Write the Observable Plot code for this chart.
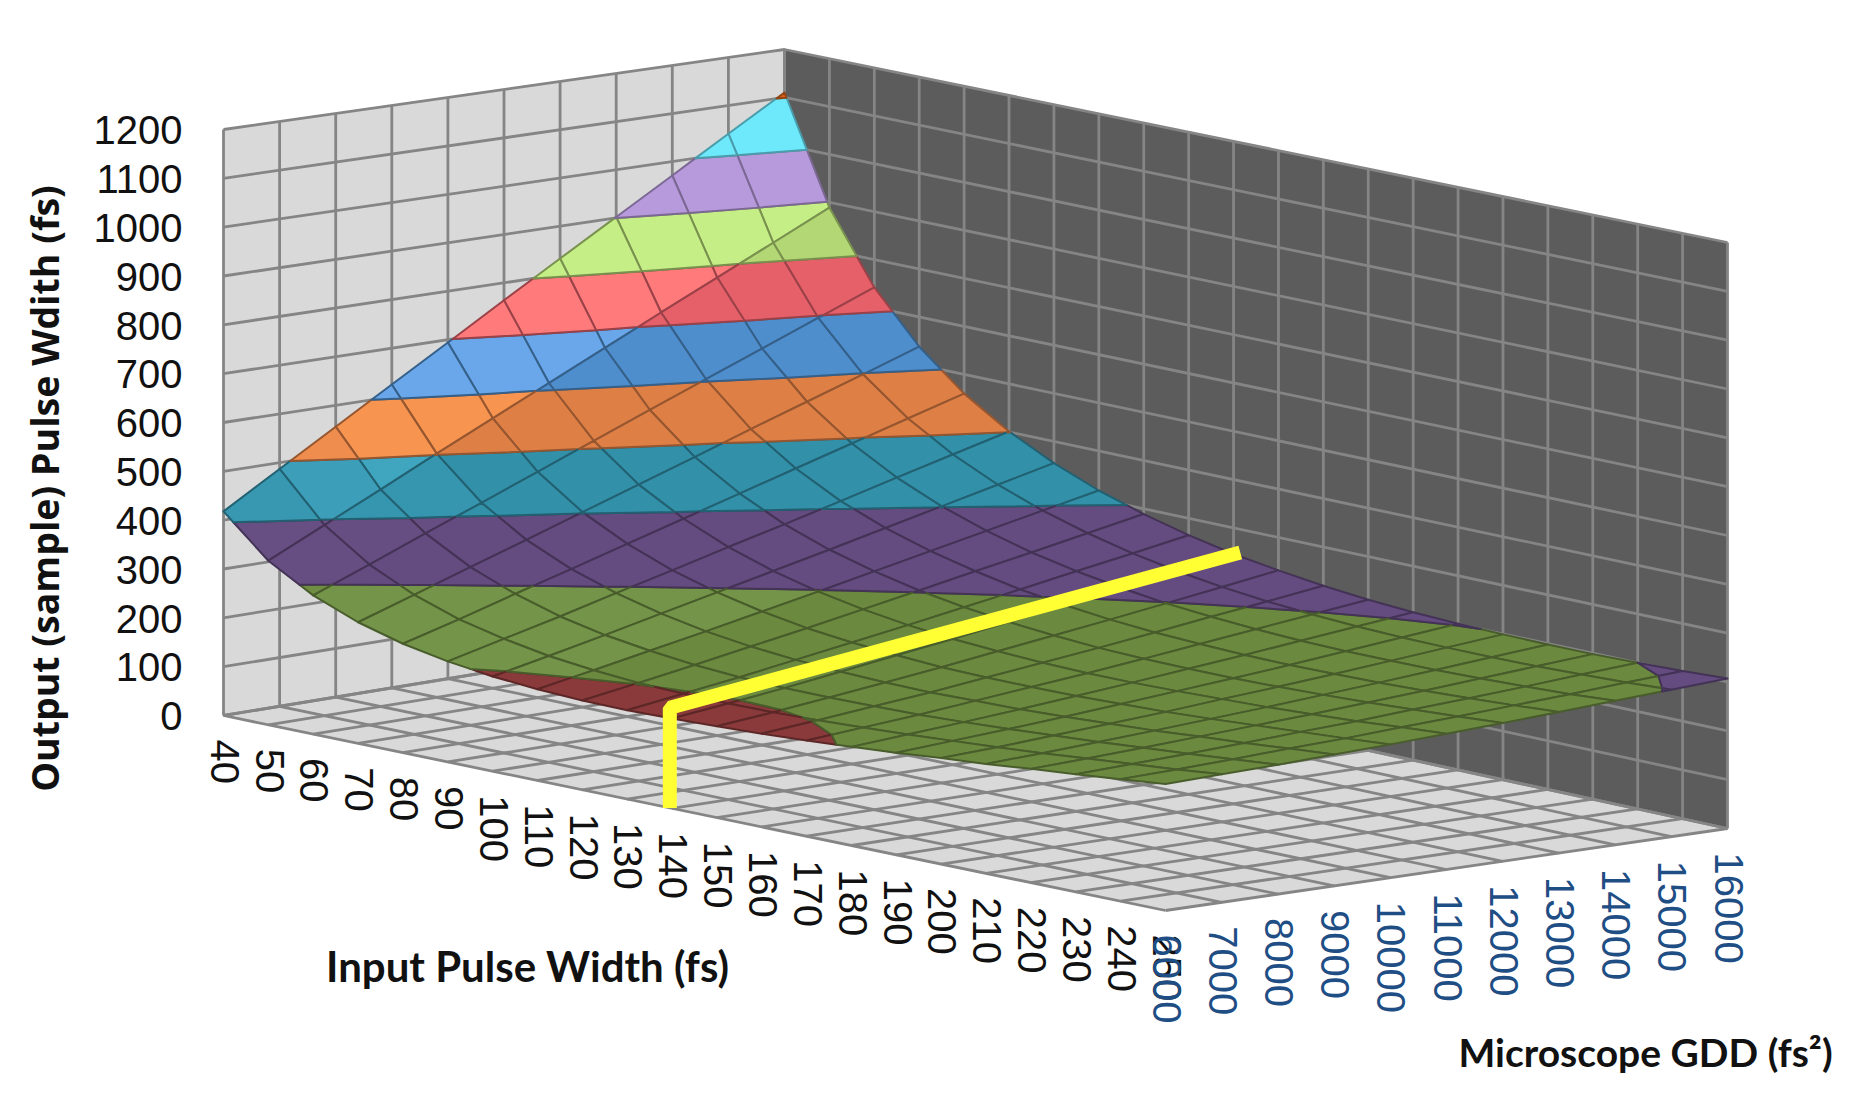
<!DOCTYPE html>
<html>
<head>
<meta charset="utf-8">
<script src="https://cdn.jsdelivr.net/npm/d3@7"></script>
<script src="https://cdn.jsdelivr.net/npm/@observablehq/plot@0.6"></script>
<style>
html,body{margin:0;padding:0;background:#fff}
svg{display:block}
</style>
</head>
<body>
<div id="chart"></div>
<script>
// Categories and axis values
const inputPulseWidths = [40,50,60,70,80,90,100,110,120,130,140,150,160,170,180,190,200,210,220,230,240,250];
const microscopeGdd = [6000,7000,8000,9000,10000,11000,12000,13000,14000,15000,16000];
const outputTicks = [0,100,200,300,400,500,600,700,800,900,1000,1100,1200];

// Output pulse width (fs): one row per input pulse width, one column per GDD
const outputPulseWidth = [
  [418,487,556,625,694,764,833,902,971,1041,1110],
  [336,391,446,502,557,612,667,723,778,833,889],
  [284,329,375,420,466,512,558,604,650,696,742],
  [248,286,325,363,402,441,480,520,559,598,638],
  [223,255,289,322,356,390,424,458,492,526,560],
  [206,234,262,292,321,351,380,410,441,471,501],
  [194,218,243,269,295,321,347,374,401,428,455],
  [187,208,230,252,275,298,322,346,370,394,418],
  [183,201,220,240,260,281,302,324,345,367,389],
  [182,198,214,232,250,268,287,306,326,345,365],
  [184,197,211,227,243,259,276,293,311,328,346],
  [187,198,211,224,238,253,268,283,299,315,332],
  [191,201,212,223,236,249,262,276,291,305,320],
  [196,205,214,225,236,247,259,272,285,298,311],
  [202,210,218,227,237,247,258,269,281,293,305],
  [209,216,223,231,240,249,258,268,279,290,301],
  [217,222,229,236,243,252,260,269,279,289,299],
  [224,229,235,241,248,255,263,271,280,289,298],
  [233,237,242,248,254,260,267,274,282,290,298],
  [241,245,249,254,260,265,272,278,285,293,300],
  [250,253,257,262,266,272,277,283,289,296,303],
  [259,262,265,269,273,278,283,289,295,301,307]
];

// Colour bands, 100 fs each, from 100 fs upward
const bandFloors = [100,200,300,400,500,600,700,800,900,1000,1100];
const bandColors = ["#8a3a3a","#6b8a3f","#654c80","#3390a9","#de7f46","#4f8ecd","#e6606a","#b3d774","#b79adb","#6ee8fb","#d9641a"];
const bandLights = ["#8a3a3a","#7a9a4f","#6e5589","#41a6c0","#f79550","#69a7ea","#ff7a7a","#c5ee87","#b79adb","#6ee8fb","#d9641a"];

// Yellow annotation: 140 fs input, traced up to the surface and across it
const markerTau = [139.5,139.5,141.5];
const markerGdd = [6000,6000,16000];
const markerOut = [0,205,352];

// Chart box projection: floor corners and wall heights of the 3D view
const view = {
  L:[223,715], F:[1165,910], R:[1727,828], B:[784,623],
  hL:586, hF:586, hR:586, hB:574, zMax:1200
};
const tauLo = inputPulseWidths[0], tauHi = inputPulseWidths[inputPulseWidths.length-1];
const gLo = microscopeGdd[0], gHi = microscopeGdd[microscopeGdd.length-1];
function project(tau,g,z){
  const u=(tau-tauLo)/(tauHi-tauLo), v=(g-gLo)/(gHi-gLo);
  const mix=(a,b,c,d)=>a*(1-u)*(1-v)+b*u*(1-v)+c*u*v+d*(1-u)*v;
  const {L,F,R,B}=view;
  const h=mix(view.hL,view.hF,view.hR,view.hB);
  return {x:mix(L[0],F[0],R[0],B[0]), y:mix(L[1],F[1],R[1],B[1])-z/view.zMax*h};
}
const pt=(id,tau,g,z,extra={})=>({id,...project(tau,g,z),...extra});

// Walls and floor
const panels=[];
const addPanel=(id,fill,corners)=>corners.forEach(c=>panels.push(pt(id,c[0],c[1],c[2],{fill})));
addPanel("left","#d9d9d9",[[tauLo,gLo,0],[tauLo,gHi,0],[tauLo,gHi,1200],[tauLo,gLo,1200]]);
addPanel("right","#5c5c5c",[[tauLo,gHi,0],[tauHi,gHi,0],[tauHi,gHi,1200],[tauLo,gHi,1200]]);
addPanel("floor","#d9d9d9",[[tauLo,gLo,0],[tauHi,gLo,0],[tauHi,gHi,0],[tauLo,gHi,0]]);

// Grid lines
const grid=[];
const addGrid=(id,a,b)=>{grid.push(pt(id,...a),pt(id,...b));};
microscopeGdd.forEach(g=>{
  addGrid("lv"+g,[tauLo,g,0],[tauLo,g,1200]);
  addGrid("fg"+g,[tauLo,g,0],[tauHi,g,0]);
});
inputPulseWidths.forEach(t=>{
  addGrid("rv"+t,[t,gHi,0],[t,gHi,1200]);
  addGrid("ft"+t,[t,gLo,0],[t,gHi,0]);
});
outputTicks.forEach(z=>{
  grid.push(pt("h"+z,tauLo,gLo,z),pt("h"+z,tauLo,gHi,z),pt("h"+z,tauHi,gHi,z));
});

// Split each mesh cell into its colour bands
function clip(poly,limit,keepAbove){
  const out=[];
  const inside=p=>keepAbove?p[2]>=limit:p[2]<=limit;
  poly.forEach((p,i)=>{
    const q=poly[(i+1)%poly.length];
    const a=inside(p), b=inside(q);
    if(a) out.push(p);
    if(a!==b){
      const s=(limit-p[2])/(q[2]-p[2]);
      out.push([p[0]+s*(q[0]-p[0]),p[1]+s*(q[1]-p[1]),limit]);
    }
  });
  return out;
}
const surface=[];
let pid=0;
inputPulseWidths.slice(0,-1).forEach((t,i)=>{
  for(let j=microscopeGdd.length-2;j>=0;j--){
    const t2=inputPulseWidths[i+1], g=microscopeGdd[j], g2=microscopeGdd[j+1];
    const cell=[[t,g,outputPulseWidth[i][j]],[t2,g,outputPulseWidth[i+1][j]],[t2,g2,outputPulseWidth[i+1][j+1]],[t,g2,outputPulseWidth[i][j+1]]];
    bandFloors.forEach((lo,b)=>{
      let poly=clip(clip(cell,lo,true),lo+100,false);
      if(poly.length<3) return;
      let glow=0;
      if(i===0) glow=Math.min(1,0.35+0.3*j);
      else if(i===1&&j<3) glow=0.25;
      else if(b===1&&i<7) glow=0.6;
      const base=d3.rgb(d3.interpolateRgb(bandColors[b],bandLights[b])(glow)).formatHex();
      const stroke=d3.color(bandColors[b]).darker(1.1).formatHex();
      pid++;
      poly.forEach(p=>surface.push(pt(pid,p[0],p[1],p[2],{fill:base,stroke})));
    });
  }
});

const marker=markerTau.map((t,i)=>project(t,markerGdd[i],markerOut[i]));

const tickFont="Liberation Sans";
const titleFont="Lato";
const chart=Plot.plot({
  width:1870,height:1100,margin:0,
  x:{domain:[0,1870],range:[0,1870],axis:null},
  y:{domain:[0,1100],range:[0,1100],axis:null},
  color:{type:"identity"},
  marks:[
    Plot.line(panels,{x:"x",y:"y",z:"id",fill:"fill",stroke:"none",curve:"linear-closed"}),
    Plot.line(grid,{x:"x",y:"y",z:"id",stroke:"#858585",strokeWidth:2.8,strokeLinecap:"butt",curve:"linear"}),
    Plot.line(surface,{x:"x",y:"y",z:"id",fill:"fill",stroke:"stroke",strokeWidth:2,strokeLinejoin:"round",curve:"linear-closed"}),
    Plot.line(marker,{x:"x",y:"y",stroke:"#ffff33",strokeWidth:14,strokeLinejoin:"miter",strokeLinecap:"butt",curve:"linear"}),
    Plot.text(outputTicks,{
      x:z=>project(tauLo,gLo,z).x-41,
      y:z=>project(tauLo,gLo,z).y+2,
      text:z=>String(z),textAnchor:"end",fontFamily:tickFont,fontSize:40,fill:"#111"
    }),
    Plot.text(inputPulseWidths,{
      x:t=>project(t,gLo,0).x,
      y:t=>project(t,gLo,0).y+24,
      text:t=>String(t),rotate:90,textAnchor:"start",fontFamily:tickFont,fontSize:40,fill:"#111"
    }),
    Plot.text(microscopeGdd,{
      x:g=>project(tauHi,g,0).x,
      y:g=>project(tauHi,g,0).y+24,
      text:g=>String(g),rotate:90,textAnchor:"start",fontFamily:tickFont,fontSize:40,fill:"#1f4e85"
    }),
    Plot.text(["Output (sample) Pulse Wdith (fs)"],{
      x:()=>46,y:()=>488,text:d=>d,rotate:-90,fontFamily:"Open Sans",fontWeight:700,fontSize:37.5,fill:"#111"
    }),
    Plot.text(["Input Pulse Width (fs)"],{
      x:()=>527,y:()=>968,text:d=>d,fontFamily:titleFont,fontWeight:700,fontSize:42,fill:"#111"
    }),
    Plot.text(["Microscope GDD (fs²)"],{
      x:()=>1645,y:()=>1054,text:d=>d,fontFamily:titleFont,fontWeight:700,fontSize:39,fill:"#111"
    })
  ]
});
document.getElementById("chart").appendChild(chart);
</script>
</body>
</html>
